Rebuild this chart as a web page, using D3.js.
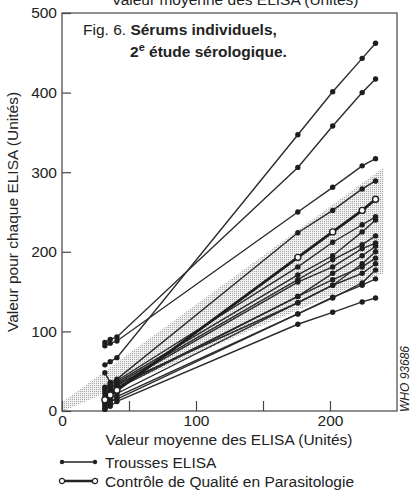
<!DOCTYPE html>
<html>
<head>
<meta charset="utf-8">
<script src="https://cdn.jsdelivr.net/npm/d3@7"></script>
<style>
  body { margin: 0; background: #fff; }
  text { font-family: "Liberation Sans", Arial, sans-serif; fill: #222; }
</style>
</head>
<body>
<div id="chart-area"></div>
<script>
const MARGIN = { LEFT: 62, RIGHT: 14, TOP: 13, BOTTOM: 79 }
const WIDTH = 411 - MARGIN.LEFT - MARGIN.RIGHT
const HEIGHT = 490 - MARGIN.TOP - MARGIN.BOTTOM

// mean ELISA value of each serum (x)
const seraMeans = [32, 36, 41, 176, 202, 224, 234]

// one row per ELISA kit, value read for each serum
const kitSeries = [
  [58, 62, 67, 347, 401, 443, 462],
  [86, 90, 93, 306, 358, 400, 417],
  [82, 85, 88, 250, 281, 308, 317],
  [48, 36, 40, 224, 252, 279, 289],
  [30, 34, 38, 181, 212, 234, 244],
  [25, 32, 36, 171, 195, 225, 240],
  [22, 28, 34, 165, 190, 209, 220],
  [18, 25, 32, 162, 181, 204, 211],
  [12, 22, 30, 144, 173, 195, 207],
  [28, 30, 33, 136, 158, 185, 200],
  [8, 18, 28, 144, 165, 181, 192],
  [5, 14, 22, 136, 158, 173, 185],
  [3, 10, 18, 122, 142, 161, 177],
  [10, 12, 15, 122, 143, 158, 166],
  [2, 6, 12, 109, 124, 137, 142]
]

// Contrôle de Qualité en Parasitologie
const qcSeries = [14, 20, 26, 193, 225, 252, 266]

// shaded band
const bandX = [1, 240]
const bandTop = [12, 306]
const bandBottom = [0, 173]

const xTicks = [0, 50, 100, 150, 200]
const yTicks = [0, 100, 200, 300, 400, 500]

const FONT = "15.5px"

const svg = d3.select("#chart-area").append("svg")
  .attr("width", 411)
  .attr("height", 490)

const defs = svg.append("defs")
const pat = defs.append("pattern")
  .attr("id", "stip")
  .attr("width", 2).attr("height", 2)
  .attr("patternUnits", "userSpaceOnUse")
pat.append("rect").attr("width", 2).attr("height", 2).attr("fill", "#f1f1f1")
pat.append("rect").attr("width", 1).attr("height", 1).attr("fill", "#a6a6a6")

const g = svg.append("g")
  .attr("transform", `translate(${MARGIN.LEFT}, ${MARGIN.TOP})`)

const x = d3.scaleLinear().domain([0, 250]).range([0, WIDTH])
const y = d3.scaleLinear().domain([0, 500]).range([HEIGHT, 0])

// band
const bandPts = [
  [bandX[0], bandBottom[0]], [bandX[0], bandTop[0]],
  [bandX[1], bandTop[1]], [bandX[1], bandBottom[1]]
]
g.append("path")
  .attr("d", d3.line().x(d => x(d[0])).y(d => y(d[1]))(bandPts) + "Z")
  .attr("fill", "url(#stip)")

// frame
g.append("rect")
  .attr("width", WIDTH).attr("height", HEIGHT)
  .attr("fill", "none").attr("stroke", "#444").attr("stroke-width", 1.2)

// axes, ticks inward
const xAxisGroup = g.append("g")
  .attr("transform", `translate(0, ${HEIGHT})`)
  .call(d3.axisBottom(x).tickValues(xTicks).tickSize(-10).tickPadding(4)
    .tickFormat(d => d % 100 === 0 ? d : ""))
const yAxisGroup = g.append("g")
  .call(d3.axisLeft(y).tickValues(yTicks).tickSize(-9).tickPadding(5))

;[xAxisGroup, yAxisGroup].forEach(a => {
  a.select(".domain").remove()
  a.selectAll("line").attr("stroke", "#444").attr("stroke-width", 1.2)
  a.selectAll("text").attr("font-size", FONT).attr("fill", "#222")
    .style("font-family", "'Liberation Sans', Arial, sans-serif")
})

const line = d3.line()
  .x((d, i) => x(seraMeans[i]))
  .y(d => y(d))

// kits
kitSeries.forEach(s => {
  g.append("path").attr("d", line(s))
    .attr("fill", "none").attr("stroke", "#2b2b2b").attr("stroke-width", 1.4)
})
kitSeries.forEach(s => {
  g.selectAll(null).data(s).enter().append("circle")
    .attr("cx", (d, i) => x(seraMeans[i]))
    .attr("cy", d => y(d))
    .attr("r", 2.7)
    .attr("fill", "#1e1e1e")
})

// quality control
g.append("path").attr("d", line(qcSeries))
  .attr("fill", "none").attr("stroke", "#1e1e1e").attr("stroke-width", 2.8)
g.selectAll(null).data(qcSeries).enter().append("circle")
  .attr("cx", (d, i) => x(seraMeans[i]))
  .attr("cy", d => y(d))
  .attr("r", 3)
  .attr("fill", "#fff").attr("stroke", "#1e1e1e").attr("stroke-width", 1.4)

// title inside the plot
const title = g.append("text").attr("x", 21).attr("y", 22).attr("font-size", FONT)
title.append("tspan").text("Fig. 6. ")
title.append("tspan").attr("font-weight", "bold").text("Sérums individuels,")
const title2 = g.append("text").attr("x", 68).attr("y", 44)
  .attr("font-size", FONT).attr("font-weight", "bold")
title2.append("tspan").text("2")
title2.append("tspan").attr("font-size", "11px").attr("dy", -6).text("e")
title2.append("tspan").attr("dy", 6).text(" étude sérologique.")

// top (cut) label
svg.append("text")
  .attr("x", 235).attr("y", 5)
  .attr("font-size", FONT).attr("text-anchor", "middle")
  .text("Valeur moyenne des ELISA (Unités)")

// X label
svg.append("text")
  .attr("x", 229).attr("y", 445)
  .attr("font-size", FONT).attr("text-anchor", "middle")
  .text("Valeur moyenne des ELISA (Unités)")

// Y label
svg.append("text")
  .attr("x", -212).attr("y", 18)
  .attr("font-size", FONT).attr("text-anchor", "middle")
  .attr("transform", "rotate(-90)")
  .text("Valeur pour chaque ELISA (Unités)")

// WHO code
svg.append("text")
  .attr("x", -379).attr("y", 409)
  .attr("font-size", "12px").attr("font-style", "italic").attr("text-anchor", "middle")
  .attr("transform", "rotate(-90)")
  .text("WHO 93686")

// legend
const legendItems = [
  { label: "Trousses ELISA", qc: false },
  { label: "Contrôle de Qualité en Parasitologie", qc: true }
]
legendItems.forEach((item, i) => {
  const row = svg.append("g").attr("transform", `translate(62, ${462 + i * 19})`)
  row.append("line").attr("x1", 0).attr("x2", 33)
    .attr("stroke", "#222").attr("stroke-width", item.qc ? 2.4 : 1.3)
  ;[0, 33].forEach(cx => {
    row.append("circle").attr("cx", cx).attr("r", item.qc ? 2.6 : 2.2)
      .attr("fill", item.qc ? "#fff" : "#222")
      .attr("stroke", item.qc ? "#222" : "none").attr("stroke-width", 1.2)
  })
  row.append("text").attr("x", 43).attr("y", 5.5)
    .attr("font-size", FONT).text(item.label)
})
</script>
</body>
</html>
